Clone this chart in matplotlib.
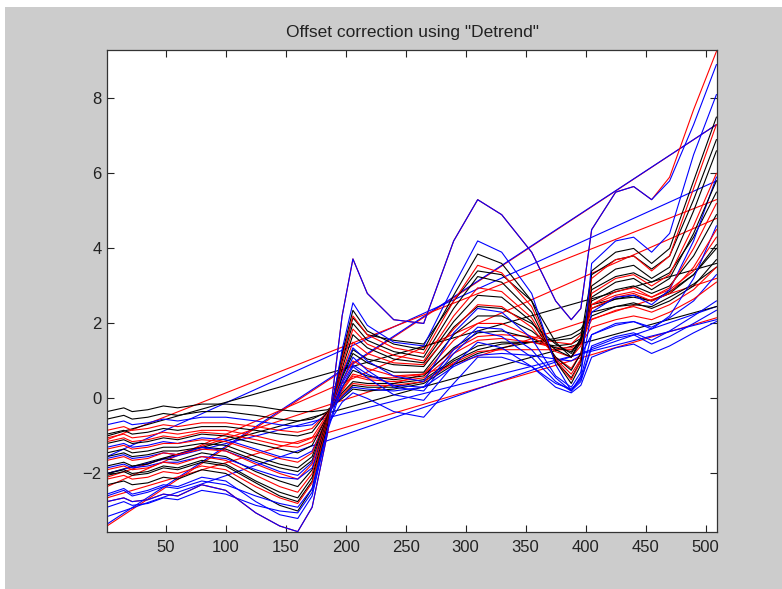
import matplotlib.pyplot as plt
from matplotlib.patches import Rectangle

plt.rcParams['font.family'] = ['Liberation Sans', 'DejaVu Sans']

x_pos = [1, 15, 22, 35, 48, 60, 80, 100, 125, 145, 160, 172, 185, 197, 206, 218,
         240, 265, 290, 310, 330, 355, 375, 388, 396, 405, 425, 440, 455, 470, 490, 509]

spec_a = [-2.75, -2.65, -2.75, -2.7, -2.55, -2.6, -2.3, -2.45, -3.05, -3.4, -3.55, -2.9, -0.9, 2.2, 3.72, 2.8,
          2.1, 2.0, 4.2, 5.3, 4.9, 3.9, 2.6, 2.1, 2.4, 4.5, 5.5, 5.65, 5.3, 5.8, 7.3, 8.9]
spec_a2 = [-2.75, -2.65, -2.75, -2.7, -2.55, -2.6, -2.3, -2.45, -3.05, -3.4, -3.55, -2.9, -0.9, 2.2, 3.72, 2.8,
           2.1, 2.0, 4.2, 5.3, 4.9, 3.9, 2.6, 2.1, 2.4, 4.5, 5.5, 5.65, 5.3, 5.9, 7.7, 9.25]
spec_b = [-2.55, -2.4, -2.55, -2.45, -2.3, -2.35, -2.1, -2.2, -2.75, -3.1, -3.2, -2.6, -0.8, 1.3, 2.55, 1.95,
          1.5, 1.4, 3.0, 4.2, 3.9, 2.8, 0.9, 0.2, 0.6, 3.6, 4.2, 4.3, 3.9, 4.4, 6.5, 8.1]
spec_c = [-2.3, -2.2, -2.3, -2.25, -2.1, -2.15, -1.9, -2.0, -2.5, -2.85, -3.0, -2.4, -0.7, 1.2, 2.35, 1.8,
          1.45, 1.3, 2.75, 3.85, 3.6, 2.6, 1.0, 0.4, 0.9, 3.4, 3.9, 4.0, 3.6, 4.0, 5.8, 7.5]
spec_d = [-2.15, -2.05, -2.15, -2.1, -1.95, -2.0, -1.8, -1.9, -2.35, -2.65, -2.8, -2.25, -0.65, 1.1, 2.2, 1.7,
          1.35, 1.2, 2.6, 3.55, 3.35, 2.45, 1.0, 0.5, 1.0, 3.2, 3.7, 3.8, 3.4, 3.8, 5.6, 7.3]
spec_y = [-2.05, -1.95, -2.05, -2.0, -1.85, -1.9, -1.7, -1.8, -2.25, -2.6, -2.75, -2.2, -0.65, 1.1, 2.15, 1.7,
          1.55, 1.45, 2.6, 3.4, 3.3, 2.6, 1.5, 1.1, 1.6, 3.3, 3.7, 3.8, 3.45, 3.8, 5.3, 6.9]
spec_e = [-2.0, -1.9, -2.0, -1.95, -1.8, -1.85, -1.65, -1.75, -2.2, -2.5, -2.65, -2.1, -0.6, 1.0, 2.0, 1.55,
          1.25, 1.1, 2.4, 3.25, 3.1, 2.3, 1.0, 0.55, 1.0, 3.0, 3.45, 3.55, 3.2, 3.5, 5.0, 6.6]
spec_f = [-1.9, -1.8, -1.9, -1.85, -1.7, -1.75, -1.55, -1.65, -2.05, -2.35, -2.5, -2.0, -0.55, 0.9, 1.85, 1.45,
          1.15, 1.0, 2.2, 2.95, 2.85, 2.15, 1.05, 0.65, 1.05, 2.8, 3.2, 3.3, 3.0, 3.3, 4.6, 6.0]
spec_g = [-1.8, -1.7, -1.8, -1.75, -1.6, -1.65, -1.45, -1.55, -1.95, -2.2, -2.35, -1.9, -0.5, 0.8, 1.7, 1.35,
          1.05, 0.95, 2.05, 2.75, 2.7, 2.05, 1.1, 0.75, 1.2, 2.7, 3.1, 3.2, 2.9, 3.2, 4.4, 5.8]
spec_h = [-1.65, -1.55, -1.65, -1.6, -1.45, -1.5, -1.35, -1.4, -1.75, -2.0, -2.15, -1.75, -0.5, 0.7, 1.5, 1.2,
          0.95, 0.9, 1.85, 2.5, 2.45, 1.9, 1.1, 0.8, 1.2, 2.5, 2.85, 2.95, 2.7, 2.95, 4.0, 5.2]
spec_w = [-1.55, -1.45, -1.55, -1.5, -1.4, -1.4, -1.3, -1.35, -1.65, -1.85, -1.95, -1.65, -0.5, 0.6, 1.3, 1.05,
          0.9, 0.85, 1.9, 2.45, 2.4, 2.0, 1.45, 1.2, 1.6, 2.9, 3.25, 3.35, 3.1, 3.35, 4.3, 5.5]
spec_i = [-1.6, -1.5, -1.6, -1.55, -1.45, -1.5, -1.3, -1.4, -1.7, -1.95, -2.05, -1.7, -0.55, 0.65, 1.35, 1.0,
          0.6, 0.45, 1.75, 2.4, 2.3, 1.6, 0.6, 0.3, 0.7, 2.3, 2.7, 2.75, 2.5, 2.9, 4.2, 5.9]
spec_j = [-1.45, -1.35, -1.45, -1.4, -1.3, -1.3, -1.2, -1.25, -1.55, -1.75, -1.85, -1.55, -0.45, 0.55, 1.2, 0.95,
          0.7, 0.7, 1.7, 2.2, 2.2, 1.8, 1.3, 1.1, 1.5, 2.6, 2.9, 3.0, 2.8, 3.0, 3.8, 4.9]
spec_k = [-1.35, -1.25, -1.35, -1.3, -1.2, -1.2, -1.1, -1.15, -1.4, -1.6, -1.7, -1.45, -0.45, 0.45, 1.0, 0.8,
          0.6, 0.65, 1.55, 2.0, 2.0, 1.65, 1.25, 1.1, 1.4, 2.4, 2.7, 2.8, 2.6, 2.8, 3.5, 4.5]
spec_l = [-1.3, -1.2, -1.3, -1.25, -1.15, -1.2, -1.05, -1.1, -1.35, -1.55, -1.6, -1.4, -0.5, 0.4, 0.9, 0.65,
          0.35, 0.3, 1.3, 1.9, 1.85, 1.3, 0.55, 0.2, 0.55, 1.7, 2.0, 2.05, 1.85, 2.2, 3.2, 4.6]
spec_m = [-2.9, -2.75, -2.85, -2.8, -2.65, -2.7, -2.45, -2.55, -2.85, -3.0, -3.05, -2.5, -0.85, 0.3, 0.85, 0.55,
          0.1, -0.05, 0.9, 1.5, 1.35, 0.85, 0.3, 0.15, 0.35, 1.1, 1.35, 1.45, 1.2, 1.4, 1.75, 2.05]
spec_n = [-2.6, -2.45, -2.6, -2.5, -2.35, -2.4, -2.2, -2.3, -2.6, -2.8, -2.9, -2.4, -0.8, 0.45, 1.1, 0.75,
          0.3, 0.2, 1.2, 1.8, 1.65, 1.1, 0.45, 0.2, 0.45, 1.35, 1.6, 1.7, 1.45, 1.65, 2.0, 2.35]
spec_u = [-1.85, -1.75, -1.85, -1.8, -1.7, -1.7, -1.55, -1.6, -1.9, -2.1, -2.15, -1.85, -0.7, -0.1, 0.15, 0.0,
          -0.35, -0.5, 0.4, 1.1, 1.1, 0.85, 0.4, 0.25, 0.5, 1.4, 1.65, 1.75, 1.55, 1.8, 2.2, 2.6]
spec_o = [-1.2, -1.1, -1.2, -1.15, -1.05, -1.1, -0.95, -1.0, -1.2, -1.35, -1.45, -1.25, -0.45, 0.3, 0.75, 0.6,
          0.5, 0.6, 1.35, 1.75, 1.8, 1.6, 1.35, 1.25, 1.55, 2.4, 2.65, 2.75, 2.6, 2.8, 3.3, 4.1]
spec_x = [-1.15, -1.05, -1.15, -1.1, -1.0, -1.05, -0.9, -0.95, -1.1, -1.25, -1.3, -1.15, -0.45, 0.25, 0.65, 0.55,
          0.55, 0.65, 1.3, 1.65, 1.7, 1.65, 1.5, 1.45, 1.7, 2.5, 2.75, 2.85, 2.7, 2.9, 3.4, 4.3]
spec_p = [-1.05, -0.95, -1.05, -1.0, -0.9, -0.95, -0.85, -0.85, -1.0, -1.15, -1.2, -1.05, -0.4, 0.2, 0.6, 0.5,
          0.45, 0.55, 1.2, 1.55, 1.6, 1.5, 1.35, 1.35, 1.5, 2.1, 2.35, 2.45, 2.3, 2.5, 2.9, 3.5]
spec_q = [-0.95, -0.85, -0.95, -0.9, -0.8, -0.85, -0.75, -0.75, -0.85, -0.95, -1.0, -0.9, -0.35, 0.15, 0.45, 0.4,
          0.4, 0.5, 1.05, 1.4, 1.5, 1.5, 1.4, 1.45, 1.6, 2.2, 2.45, 2.55, 2.4, 2.6, 3.0, 3.7]
spec_r = [-0.85, -0.75, -0.85, -0.8, -0.7, -0.75, -0.65, -0.65, -0.75, -0.85, -0.9, -0.8, -0.35, 0.1, 0.4, 0.35,
          0.35, 0.45, 0.95, 1.25, 1.3, 1.3, 1.3, 1.3, 1.45, 1.9, 2.1, 2.2, 2.1, 2.3, 2.65, 3.1]
spec_s = [-0.35, -0.25, -0.35, -0.3, -0.2, -0.25, -0.15, -0.15, -0.2, -0.3, -0.35, -0.35, -0.3, 0.0, 0.25, 0.2,
          0.25, 0.4, 0.9, 1.2, 1.35, 1.5, 1.6, 1.7, 1.85, 2.3, 2.45, 2.5, 2.45, 2.7, 3.05, 3.5]
spec_t = [-0.55, -0.45, -0.55, -0.5, -0.4, -0.45, -0.35, -0.35, -0.45, -0.55, -0.6, -0.55, -0.35, 0.05, 0.35, 0.3,
          0.3, 0.45, 1.0, 1.3, 1.45, 1.5, 1.55, 1.6, 1.75, 2.5, 2.65, 2.7, 2.6, 2.85, 3.3, 4.0]
spec_v = [-0.7, -0.6, -0.7, -0.65, -0.55, -0.6, -0.5, -0.5, -0.6, -0.7, -0.75, -0.7, -0.4, 0.05, 0.3, 0.25,
          0.2, 0.3, 0.85, 1.15, 1.2, 1.15, 1.05, 1.0, 1.15, 1.7, 1.95, 2.05, 1.9, 2.15, 2.6, 3.3]

spectra = [
    ('k', spec_s), ('k', spec_t), ('b', spec_v), ('r', spec_r), ('k', spec_q), ('r', spec_p),
    ('r', spec_x), ('k', spec_o), ('b', spec_l), ('r', spec_k), ('k', spec_j), ('k', spec_w),
    ('b', spec_i), ('r', spec_h), ('k', spec_g), ('b', spec_u), ('r', spec_f), ('k', spec_e),
    ('k', spec_y), ('r', spec_d), ('k', spec_c), ('b', spec_n), ('b', spec_m), ('b', spec_b),
    ('r', spec_a2), ('b', spec_a),
]

# fitted trend lines: value at first and last channel
trend_x = [1, 509]
trend_lines = [
    ('r', [-3.4, 7.3]), ('b', [-3.35, 7.3]), ('r', [-2.65, 2.15]), ('b', [-3.15, 2.45]),
    ('b', [-1.55, 5.8]), ('r', [-1.1, 5.3]), ('r', [-2.35, 4.8]), ('r', [-2.1, 3.2]),
    ('k', [-2.0, 2.45]), ('k', [-1.0, 3.6]), ('b', [-2.0, 2.1]),
]

fig = plt.figure(figsize=(7.82, 5.89), dpi=100, facecolor='white')
fig.patches.append(Rectangle((5 / 782, 0), 1, 1 - 7 / 589, transform=fig.transFigure,
                             facecolor='#cccccc', edgecolor='none', zorder=-10))
ax = fig.add_axes([107 / 782, 57 / 589, 610 / 782, 482 / 589])

for c, vals in trend_lines:
    ax.plot(trend_x, vals, color=c, lw=0.8)
for c, vals in spectra:
    ax.plot(x_pos, vals, color=c, lw=0.8)

ax.set_xlim(1, 509.5)
ax.set_ylim(-3.56, 9.29)
ax.set_xticks([50, 100, 150, 200, 250, 300, 350, 400, 450, 500])
ax.set_yticks([-2, 0, 2, 4, 6, 8])
ax.tick_params(direction='in', length=5, width=0.8, top=True, right=True,
               labelsize=12, colors='#222222')
ax.tick_params(axis='x', pad=6)
ax.tick_params(axis='y', pad=4)
for sp in ax.spines.values():
    sp.set_linewidth(0.9)
    sp.set_color('#333333')
ax.set_title('Offset correction using "Detrend"', fontsize=12.5, pad=9, color='#222222')

fig.savefig('out.png', dpi=100, facecolor=fig.get_facecolor())
